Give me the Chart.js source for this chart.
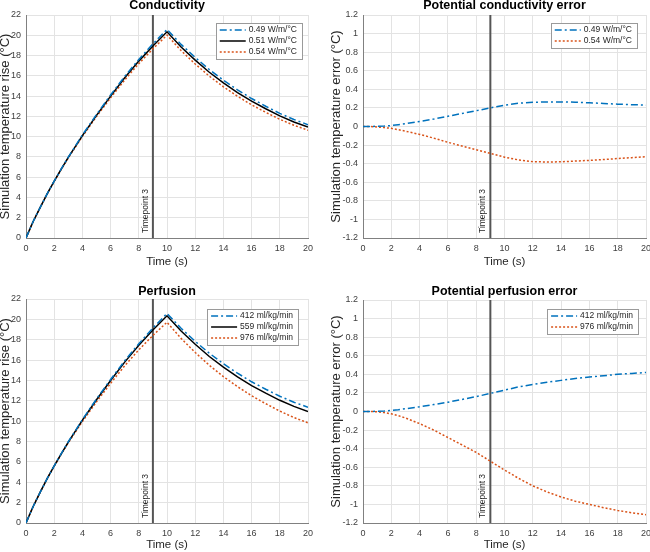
<!DOCTYPE html>
<html lang="en">

<head>
  <meta charset="UTF-8" />
  <title>Conductivity and perfusion</title>
  <script src="https://cdn.jsdelivr.net/npm/chart.js"></script>
  <style>
    html, body { margin: 0; padding: 0; background: #fff; width: 650px; height: 552px; overflow: hidden; }
    .panel { position: absolute; }
  </style>
</head>

<body>
  <div class="panel" style="left:-2px;top:0px;width:328px;height:276px"><canvas id="riseK"></canvas></div>
  <div class="panel" style="left:329px;top:0px;width:330px;height:276px"><canvas id="errK"></canvas></div>
  <div class="panel" style="left:-2px;top:276px;width:328px;height:276px"><canvas id="riseP"></canvas></div>
  <div class="panel" style="left:329px;top:276px;width:330px;height:276px"><canvas id="errP"></canvas></div>

  <script>
    // time axis (s)
    const time = [0, 0.5, 1, 1.5, 2, 2.5, 3, 4, 5, 6, 7, 8, 9, 10, 11, 12, 13, 14, 15, 16, 17, 18, 19, 20];
    const timepoint3 = 9;

    // conductivity runs, temperature rise (°C)
    const riseK049 = [0, 1.6, 3.0, 4.36, 5.61, 6.82, 7.98, 10.16, 12.18, 14.11, 15.94, 17.62, 19.15, 20.58, 19.1, 17.81, 16.62, 15.57, 14.61, 13.76, 13.0, 12.29, 11.69, 11.18];
    const riseK051 = [0, 1.6, 3.0, 4.35, 5.6, 6.8, 7.95, 10.1, 12.1, 14.0, 15.8, 17.45, 18.95, 20.35, 18.85, 17.55, 16.35, 15.3, 14.35, 13.5, 12.75, 12.05, 11.45, 10.95];
    const riseK054 = [0, 1.6, 3.0, 4.34, 5.58, 6.77, 7.9, 10.02, 11.98, 13.83, 15.59, 17.2, 18.66, 20.02, 18.49, 17.17, 15.97, 14.92, 13.98, 13.14, 12.4, 11.71, 11.12, 10.63];

    // conductivity error (°C)
    const errK049 = [0, 0, 0.002, 0.005, 0.01, 0.02, 0.03, 0.055, 0.08, 0.11, 0.14, 0.17, 0.2, 0.23, 0.25, 0.26, 0.265, 0.265, 0.262, 0.255, 0.248, 0.24, 0.235, 0.23];
    const errK054 = [0, 0, -0.005, -0.012, -0.02, -0.035, -0.05, -0.085, -0.125, -0.17, -0.21, -0.25, -0.29, -0.33, -0.36, -0.378, -0.382, -0.38, -0.372, -0.365, -0.355, -0.345, -0.335, -0.325];

    // perfusion runs, temperature rise (°C)
    const riseP412 = [0, 1.6, 3.0, 4.36, 5.61, 6.82, 7.98, 10.15, 12.18, 14.1, 15.93, 17.61, 19.15, 20.58, 19.12, 17.84, 16.67, 15.64, 14.71, 13.87, 13.14, 12.45, 11.86, 11.37];
    const riseP559 = [0, 1.6, 3.0, 4.35, 5.6, 6.8, 7.95, 10.1, 12.1, 14.0, 15.8, 17.45, 18.95, 20.35, 18.85, 17.55, 16.35, 15.3, 14.35, 13.5, 12.75, 12.05, 11.45, 10.95];
    const riseP976 = [0, 1.6, 3.0, 4.34, 5.58, 6.76, 7.88, 9.97, 11.9, 13.72, 15.44, 17.01, 18.42, 19.72, 18.13, 16.75, 15.49, 14.38, 13.39, 12.5, 11.72, 10.99, 10.36, 9.84];

    // perfusion error (°C)
    const errP412 = [0, 0, 0.002, 0.006, 0.012, 0.02, 0.03, 0.05, 0.075, 0.1, 0.13, 0.16, 0.195, 0.23, 0.265, 0.29, 0.315, 0.335, 0.355, 0.37, 0.385, 0.4, 0.41, 0.42];
    const errP976 = [0, 0, -0.003, -0.012, -0.025, -0.045, -0.07, -0.13, -0.2, -0.28, -0.36, -0.44, -0.535, -0.63, -0.72, -0.8, -0.865, -0.92, -0.965, -1.0, -1.035, -1.065, -1.09, -1.11];

    const kLabels = ["0.49 W/m/°C", "0.51 W/m/°C", "0.54 W/m/°C"];
    const pLabels = ["412 ml/kg/min", "559 ml/kg/min", "976 ml/kg/min"];

    const BLUE = "#0072BD";
    const RED = "#D95319";
    const FONT = "'Liberation Sans', Arial, sans-serif";

    const toPoints = ys => ys.map((y, i) => ({ x: time[i], y: y }));

    function series(label, ys, style) {
      const base = { label: label, data: toPoints(ys), pointRadius: 0, borderWidth: 1.5, tension: 0, fill: false };
      if (style === "blue") return Object.assign(base, { borderColor: BLUE, borderDash: [7, 3, 2, 3] });
      if (style === "red") return Object.assign(base, { borderColor: RED, borderDash: [2, 2] });
      return Object.assign(base, { borderColor: "#000000" });
    }

    function markerLine(yMin, yMax) {
      return {
        label: "", isMarker: true,
        data: [{ x: timepoint3, y: yMin }, { x: timepoint3, y: yMax }],
        borderColor: "#555555", borderWidth: 2, pointRadius: 0
      };
    }

    // legend drawn as a boxed list inside the plot, like the original
    const boxLegend = {
      id: "boxLegend",
      afterDatasetsDraw(chart, args, opts) {
        const ctx = chart.ctx;
        const area = chart.chartArea;
        const items = chart.data.datasets.filter(d => !d.isMarker);
        ctx.save();
        ctx.font = "8.5px " + FONT;
        const textW = Math.max(...items.map(d => ctx.measureText(d.label).width));
        const rowH = 11;
        const w = 33 + textW + 5;
        const h = items.length * rowH + 3;
        const x0 = area.right - opts.right - w;
        const y0 = area.top + opts.top;
        ctx.fillStyle = "#ffffff";
        ctx.fillRect(x0, y0, w, h);
        ctx.strokeStyle = "#9a9a9a";
        ctx.lineWidth = 1;
        ctx.strokeRect(Math.round(x0) + 0.5, Math.round(y0) + 0.5, Math.round(w), Math.round(h));
        items.forEach((d, i) => {
          const cy = y0 + 7 + i * rowH;
          ctx.strokeStyle = d.borderColor;
          ctx.lineWidth = d.borderWidth;
          ctx.setLineDash(d.borderDash || []);
          ctx.beginPath();
          ctx.moveTo(x0 + 4, cy);
          ctx.lineTo(x0 + 30, cy);
          ctx.stroke();
          ctx.setLineDash([]);
          ctx.fillStyle = "#262626";
          ctx.textBaseline = "middle";
          ctx.textAlign = "left";
          ctx.fillText(d.label, x0 + 33, cy);
        });
        ctx.restore();
      }
    };

    const timepointLabel = {
      id: "timepointLabel",
      afterDatasetsDraw(chart) {
        const ctx = chart.ctx;
        const x = chart.scales.x.getPixelForValue(timepoint3);
        ctx.save();
        ctx.translate(x - 5, chart.chartArea.bottom - 5);
        ctx.rotate(-Math.PI / 2);
        ctx.font = "8.5px " + FONT;
        ctx.fillStyle = "#262626";
        ctx.textAlign = "left";
        ctx.textBaseline = "alphabetic";
        ctx.fillText("Timepoint 3", 0, 0);
        ctx.restore();
      }
    };

    // title centred over the plot area rather than the whole canvas
    const areaTitle = {
      id: "areaTitle",
      afterDraw(chart, args, opts) {
        const ctx = chart.ctx;
        const area = chart.chartArea;
        ctx.save();
        ctx.font = "bold 12.5px " + FONT;
        ctx.fillStyle = "#000000";
        ctx.textAlign = "center";
        ctx.textBaseline = "alphabetic";
        ctx.fillText(opts.text, (area.left + area.right) / 2, opts.baseline);
        ctx.restore();
      }
    };

    function makeChart(id, cfg) {
      const tickFmt = v => String(Math.round(v * 10) / 10);
      new Chart(document.getElementById(id), {
        type: "line",
        data: { datasets: cfg.datasets },
        plugins: [boxLegend, timepointLabel, areaTitle],
        options: {
          responsive: true,
          maintainAspectRatio: false,
          animation: false,
          layout: { padding: { left: 0, right: cfg.padRight, top: cfg.padTop, bottom: 0 } },
          plugins: {
            legend: { display: false },
            tooltip: { enabled: false },
            title: { display: false },
            areaTitle: { text: cfg.title, baseline: cfg.titleBaseline },
            boxLegend: { right: cfg.legendRight, top: cfg.legendTop }
          },
          scales: {
            x: {
              type: "linear", min: 0, max: 20,
              ticks: { stepSize: 2, padding: 5, color: "#404040", font: { family: FONT, size: 9 }, maxRotation: 0 },
              grid: { color: "#e3e3e3", drawTicks: false },
              border: { color: "#808080" },
              title: {
                display: true, text: "Time (s)", color: "#262626",
                font: { family: FONT, size: 11.5 }, padding: { top: cfg.xTitlePad, bottom: cfg.xTitlePad }
              },
              afterFit: s => { s.height = cfg.xHeight; s.paddingLeft = 0; s.paddingRight = 0; }
            },
            y: {
              min: cfg.yMin, max: cfg.yMax,
              ticks: { stepSize: cfg.yStep, padding: 5, color: "#404040", font: { family: FONT, size: 9 }, callback: tickFmt },
              grid: { color: "#e3e3e3", drawTicks: false },
              border: { color: "#808080" },
              title: {
                display: true, text: cfg.yTitle, color: "#262626",
                font: { family: FONT, size: 13 }, padding: { top: 0, bottom: 0 }
              },
              afterFit: s => { s.width = cfg.yWidth; s.paddingTop = 0; s.paddingBottom = 0; }
            }
          }
        }
      });
    }

    makeChart("riseK", {
      title: "Conductivity", titleBaseline: 8.5,
      datasets: [series(kLabels[0], riseK049, "blue"), series(kLabels[1], riseK051, "black"), series(kLabels[2], riseK054, "red"), markerLine(0, 22)],
      yMin: 0, yMax: 22, yStep: 2, yTitle: "Simulation temperature rise (°C)",
      yWidth: 28, xHeight: 38, padTop: 15, padRight: 18, xTitlePad: 7, legendRight: 6, legendTop: 8
    });

    makeChart("errK", {
      title: "Potential conductivity error", titleBaseline: 8.5,
      datasets: [series(kLabels[0], errK049, "blue"), series(kLabels[2], errK054, "red"), markerLine(-1.2, 1.2)],
      yMin: -1.2, yMax: 1.2, yStep: 0.2, yTitle: "Simulation temperature error (°C)",
      yWidth: 34, xHeight: 38, padTop: 15, padRight: 13, xTitlePad: 7, legendRight: 9, legendTop: 8
    });

    makeChart("riseP", {
      title: "Perfusion", titleBaseline: 19,
      datasets: [series(pLabels[0], riseP412, "blue"), series(pLabels[1], riseP559, "black"), series(pLabels[2], riseP976, "red"), markerLine(0, 22)],
      yMin: 0, yMax: 22, yStep: 2, yTitle: "Simulation temperature rise (°C)",
      yWidth: 28, xHeight: 29, padTop: 23, padRight: 18, xTitlePad: 0, legendRight: 10, legendTop: 10
    });

    makeChart("errP", {
      title: "Potential perfusion error", titleBaseline: 19,
      datasets: [series(pLabels[0], errP412, "blue"), series(pLabels[2], errP976, "red"), markerLine(-1.2, 1.2)],
      yMin: -1.2, yMax: 1.2, yStep: 0.2, yTitle: "Simulation temperature error (°C)",
      yWidth: 34, xHeight: 29, padTop: 24, padRight: 13, xTitlePad: 0, legendRight: 8, legendTop: 9
    });
  </script>
</body>

</html>
